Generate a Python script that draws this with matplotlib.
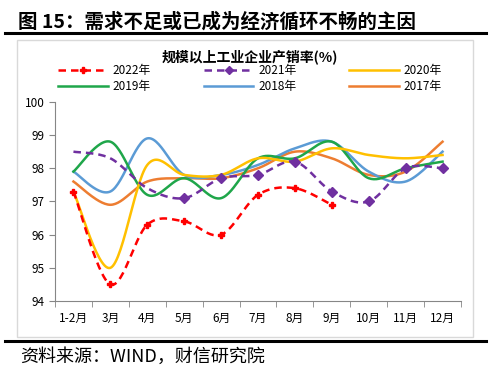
import numpy as np
import matplotlib
matplotlib.use("Agg")
import matplotlib.pyplot as plt
from matplotlib.patches import Rectangle
from matplotlib.lines import Line2D

plt.rcParams['font.family'] = ['Noto Sans CJK SC', 'DejaVu Sans']
plt.rcParams['axes.unicode_minus'] = False

months = ["1-2月", "3月", "4月", "5月", "6月", "7月", "8月", "9月", "10月", "11月", "12月"]

y2022 = [97.3, 94.5, 96.3, 96.4, 96.0, 97.2, 97.4, 96.9]
y2021 = [98.5, 98.3, 97.4, 97.1, 97.7, 97.8, 98.2, 97.3, 97.0, 98.0, 98.0]
y2020 = [97.3, 95.0, 98.1, 97.8, 97.8, 98.3, 98.2, 98.6, 98.4, 98.3, 98.4]
y2019 = [97.9, 98.8, 97.2, 97.7, 97.1, 98.3, 98.3, 98.8, 97.7, 98.0, 98.2]
y2018 = [97.9, 97.3, 98.9, 97.8, 97.8, 98.1, 98.6, 98.8, 97.9, 97.6, 98.5]
y2017 = [97.6, 96.9, 97.6, 97.7, 97.7, 98.0, 98.5, 98.3, 97.8, 97.9, 98.8]


def smooth(vals, n=30):
    """Excel-style smoothed line (Catmull-Rom Bezier)."""
    x = np.arange(len(vals), dtype=float)
    y = np.asarray(vals, dtype=float)
    p = np.column_stack([x, y])
    pts = [p[0]]
    t = np.linspace(0, 1, n)[1:, None]
    for i in range(len(p) - 1):
        p0 = p[i - 1] if i > 0 else p[i]
        p3 = p[i + 2] if i + 2 < len(p) else p[i + 1]
        c1 = p[i] + (p[i + 1] - p0) / 6
        c2 = p[i + 1] - (p3 - p[i]) / 6
        seg = ((1 - t) ** 3 * p[i] + 3 * (1 - t) ** 2 * t * c1
               + 3 * (1 - t) * t ** 2 * c2 + t ** 3 * p[i + 1])
        pts.extend(seg)
    pts = np.array(pts)
    return pts[:, 0], pts[:, 1]


fig = plt.figure(figsize=(5.0, 3.83), dpi=100)
ax = fig.add_axes([0.11, 0.214, 0.812, 0.52])

series = [
    ("2017年", y2017, "#ED7D31", "-", None, None),
    ("2018年", y2018, "#5B9BD5", "-", None, None),
    ("2019年", y2019, "#1FA64A", "-", None, None),
    ("2020年", y2020, "#FFC000", "-", None, None),
    ("2021年", y2021, "#7030A0", (0, (3, 2)), "D", 3),
    ("2022年", y2022, "#FF0000", (0, (3, 2)), "P", 0),
]
handles = {}
for name, vals, color, ls, mk, start in series:
    sx, sy = smooth(vals)
    ax.plot(sx, sy, color=color, lw=1.8, linestyle=ls, zorder=3)
    if mk:
        xs = np.arange(len(vals))[start:]
        ax.plot(xs, vals[start:], linestyle="none", marker=mk,
                color=color, ms=5.5 if mk == "D" else 5, zorder=4)
    handles[name] = Line2D([], [], color=color, lw=1.8, linestyle=ls,
                           marker=mk, ms=4, markevery=[1] if mk else None)

ax.set_xlim(-0.5, len(months) - 0.5)
ax.set_ylim(94, 100)
ax.set_yticks(range(94, 101))
ax.set_xticks(np.arange(len(months)))
ax.set_xticklabels(months)
ax.set_xticks(np.arange(-0.5, len(months), 1), minor=True)
ax.tick_params(axis="x", which="major", length=0, labelsize=8.5, pad=8)
ax.tick_params(axis="x", which="minor", length=4, color="#868686")
ax.tick_params(axis="y", length=4, color="#868686", labelsize=8.5)
for s in ["top", "right"]:
    ax.spines[s].set_visible(False)
for s in ["left", "bottom"]:
    ax.spines[s].set_color("#868686")

order = ["2022年", "2019年", "2021年", "2018年", "2020年", "2017年"]
fig.legend([handles[k] for k in order], order, ncol=3, loc="center",
           bbox_to_anchor=(0.5, 0.795), frameon=False, fontsize=8.5,
           handlelength=4.2, columnspacing=4.5, handletextpad=0.4,
           labelspacing=0.3)

fig.text(0.5, 0.853, "规模以上工业企业产销率(%)", ha="center", va="center",
         fontsize=10, fontweight="bold")

fig.text(0.036, 0.943, "图 15：需求不足或已成为经济循环不畅的主因",
         ha="left", va="center", fontsize=14, fontweight="bold")
fig.add_artist(Line2D([0.01, 0.972], [0.914, 0.914], color="black", lw=2.2,
                      transform=fig.transFigure))
fig.add_artist(Line2D([0.01, 0.972], [0.109, 0.109], color="black", lw=2.2,
                      transform=fig.transFigure))
fig.add_artist(Rectangle((0.034, 0.12), 0.912, 0.775, fill=False,
                         edgecolor="#D9D9D9", lw=1, transform=fig.transFigure))
fig.text(0.04, 0.068, "资料来源：WIND，财信研究院", ha="left", va="center",
         fontsize=13, style="italic")

fig.savefig("out.png", dpi=100)
